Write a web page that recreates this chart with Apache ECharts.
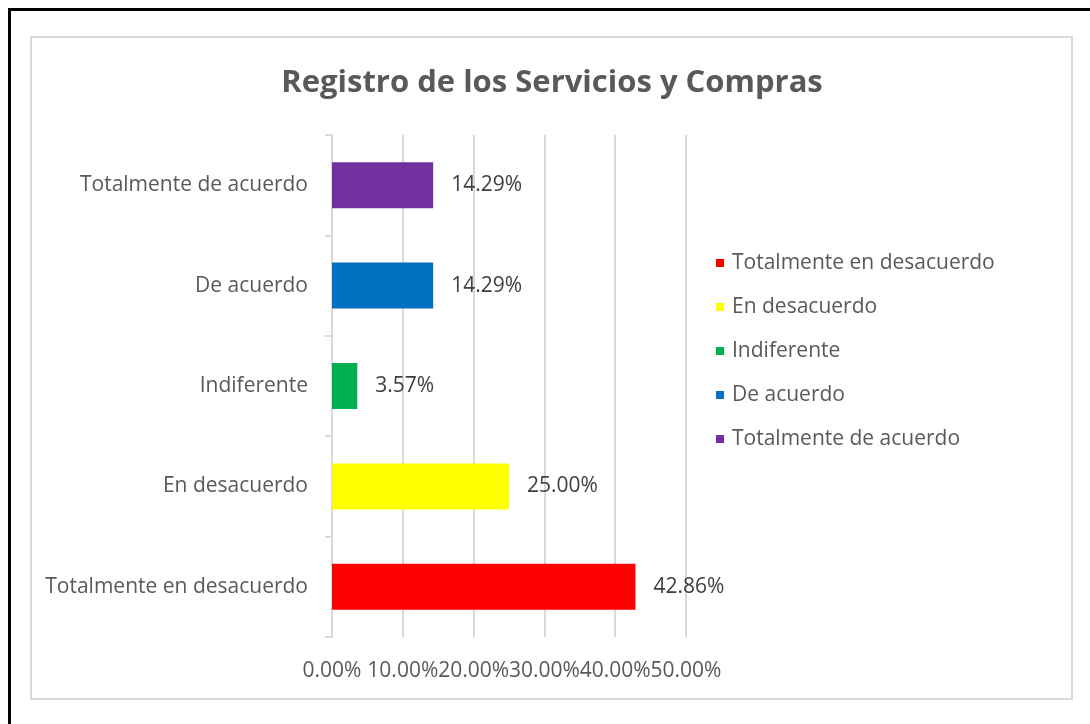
<!DOCTYPE html>
<html>
<head>
<meta charset="utf-8">
<script src="https://cdn.jsdelivr.net/npm/echarts@6/dist/echarts.min.js"></script>
<style>
html, body { margin: 0; padding: 0; background: #fff; overflow: hidden; }
#frame {
    position: absolute; left: 8px; top: 8px; width: 1100px; height: 730px;
    border-top: 3px solid #000; border-left: 3px solid #000; box-sizing: border-box;
}
#box {
    position: absolute; left: 30px; top: 36px; width: 1043px; height: 664px;
    border: 2px solid #d9d9d9; box-sizing: border-box;
}
#chart { position: absolute; left: 0; top: 0; width: 1090px; height: 724px; }
</style>
</head>
<body>
<div id="frame"></div>
<div id="box"></div>
<div id="chart"></div>
<script>
// categorias de abajo hacia arriba
const categories = ['Totalmente en desacuerdo', 'En desacuerdo', 'Indiferente', 'De acuerdo', 'Totalmente de acuerdo'];
const values = [42.86, 25.00, 3.57, 14.29, 14.29];
const colors = ['#ff0000', '#ffff00', '#00b050', '#0070c0', '#7030a0'];
const xTicks = [0, 10, 20, 30, 40, 50];

const font = 'Open Sans';
const fs = 21;
let myChart = echarts.init(document.getElementById('chart'));

let series = categories.map((name, i) => {
    let data = categories.map((c, j) => (j === i ? values[i] : null));
    return {
        name: name,
        type: 'bar',
        stack: 'total',
        barWidth: 46,
        itemStyle: { color: colors[i] },
        label: {
            show: true,
            position: 'right',
            distance: 18,
            color: '#404040',
            fontFamily: font,
            fontSize: fs,
            formatter: p => p.value.toFixed(2) + '%'
        },
        data: data
    };
});

let option = {
    animation: false,
    title: {
        text: 'Registro de los Servicios y Compras',
        left: 547,
        top: 63,
        textAlign: 'center',
        textStyle: { fontFamily: font, fontSize: 31, fontWeight: 'bold', color: '#595959' }
    },
    legend: {
        orient: 'vertical',
        left: 711,
        top: 246,
        icon: 'rect',
        itemWidth: 8,
        itemHeight: 8,
        itemGap: 20,
        textStyle: { fontFamily: font, fontSize: fs, color: '#595959', lineHeight: 24, padding: [0, 0, 0, 3] },
        data: categories
    },
    grid: { left: 332, right: 404, top: 135, bottom: 87 },
    xAxis: {
        type: 'value',
        min: xTicks[0],
        max: xTicks[xTicks.length - 1],
        interval: 10,
        axisLine: { show: false },
        axisTick: { show: false },
        splitLine: { lineStyle: { color: '#d9d9d9', width: 2 } },
        axisLabel: {
            margin: 24,
            color: '#595959',
            fontFamily: font,
            fontSize: fs,
            hideOverlap: false,
            formatter: v => v.toFixed(2) + '%'
        }
    },
    yAxis: {
        type: 'category',
        data: categories,
        axisLine: { show: true, lineStyle: { color: '#d9d9d9', width: 2 } },
        axisTick: { show: true, length: 7, lineStyle: { color: '#d9d9d9', width: 2 } },
        axisLabel: { margin: 24, color: '#595959', fontFamily: font, fontSize: fs, padding: [4, 0, 0, 0] }
    },
    series: series
};
myChart.setOption(option);
</script>
</body>
</html>
